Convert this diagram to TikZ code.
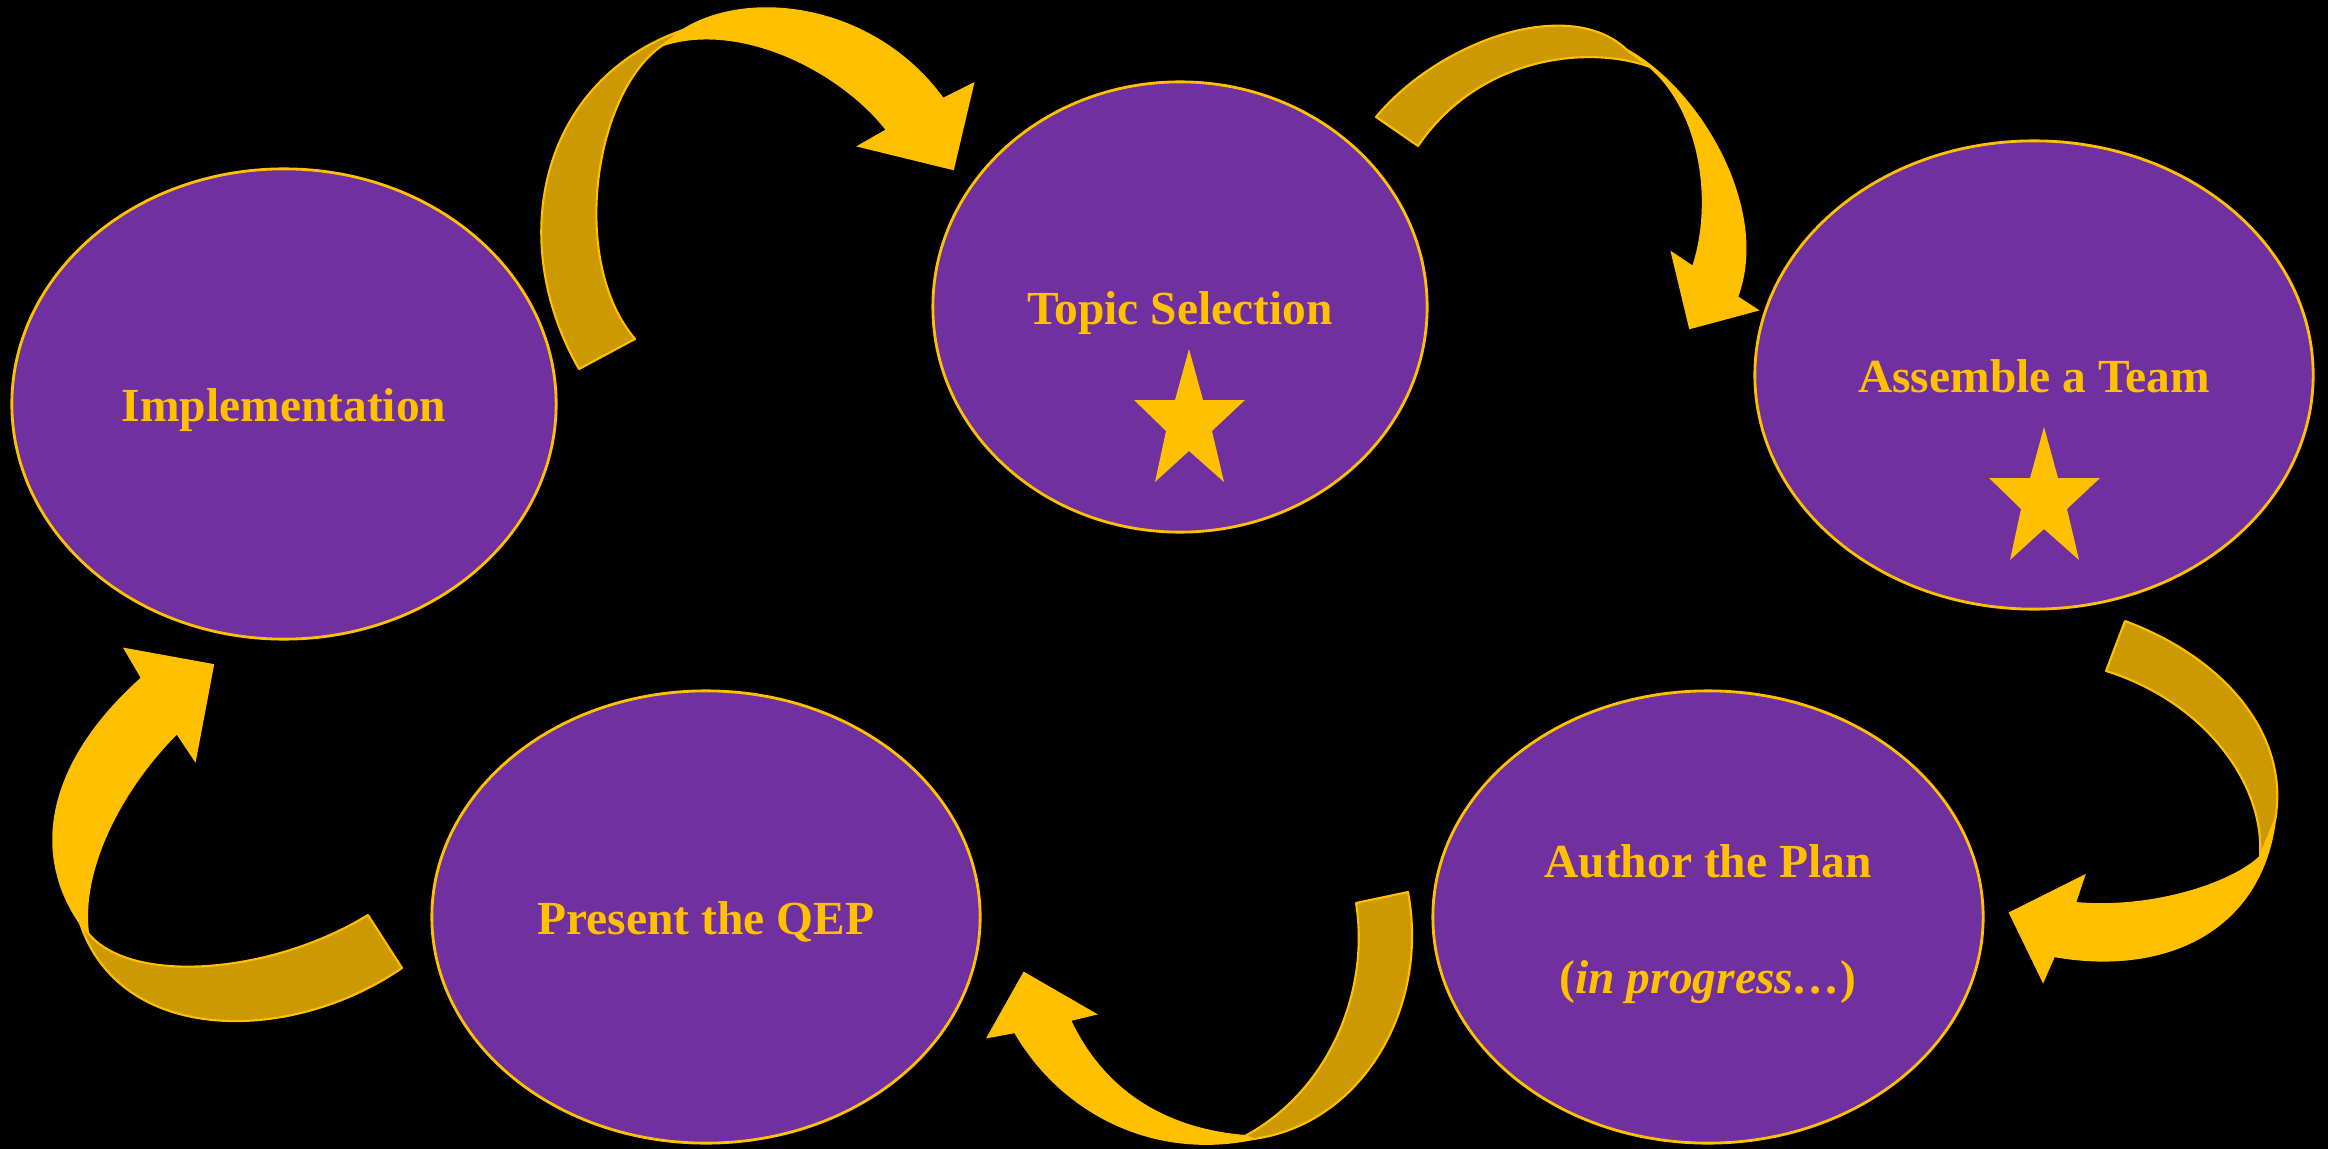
\documentclass[tikz,border=0pt]{standalone}
\usepackage{fontspec}
\setmainfont{Liberation Serif}
\usepackage{tikz}
\usetikzlibrary{shapes.geometric}

\definecolor{qepgold}{HTML}{FFC000}
\definecolor{qepdark}{HTML}{CC9900}
\definecolor{qeppurple}{HTML}{7030A0}

\begin{document}
\begin{tikzpicture}[x=0.01cm, y=-0.01cm]
      \tikzstyle{stage} = [
        ellipse,
        draw=qepgold,
        line width=0.8pt,
        fill=qeppurple,
        text=qepgold,
        inner sep=0pt,
        text height=0.34cm,
        text depth=0cm,
        font=\bfseries\fontsize{13.5}{16}\selectfont
      ]

      \tikzstyle{caption} = [
        text=qepgold,
        align=center,
        inner sep=0pt,
        font=\bfseries\fontsize{13.5}{16}\selectfont
      ]

      \tikzstyle{ribbonback} = [
        fill=qepdark,
        draw=qepgold,
        line width=0.6pt,
        line join=round
      ]

      \tikzstyle{ribbonfront} = [
        fill=qepgold,
        draw=qepgold,
        line width=0.6pt
      ]

      \tikzset{goldstar/.pic={
        \fill[qepgold] (0,-67) -- (14,-16) -- (56,-16) -- (23,15) -- (35,66)
        -- (0,35) -- (-34,66) -- (-23,15) -- (-55,-16) -- (-14,-16) -- cycle;
      }}

      \fill[black] (0,0) rectangle (2328,1149);
      \useasboundingbox (0,0) rectangle (2328,1149);

      \node[stage, minimum width=5.44cm, minimum height=4.70cm]
      (implementation) at (284,404) {Implementation};
      \node[stage, minimum width=4.94cm, minimum height=4.50cm]
      (topic) at (1180,307) {Topic Selection};
      \node[stage, minimum width=5.58cm, minimum height=4.68cm]
      (team) at (2034,375) {Assemble a Team};
      \node[stage, minimum width=5.50cm, minimum height=4.52cm]
      (plan) at (1708,917) {};
      \node[caption] (plan text) at (1708,924)
      {Author the Plan\\[17pt](\textit{in progress…})};
      \node[stage, minimum width=5.48cm, minimum height=4.52cm]
      (qep) at (706,917) {Present the QEP};

      \pic at (1189,416) {goldstar};
      \pic at (2044,494) {goldstar};

      % implementation -> topic
      \filldraw[ribbonback] (579,369) .. controls (505,240) and (540,80)
      .. (683,30) -- (663,45) .. controls (595,90) and (568,260) .. (635,339)
      -- cycle;
      \filldraw[ribbonfront] (683,30) .. controls (750,-12) and (875,5)
      .. (943,99) -- (973,84) -- (953,169) -- (859,146) -- (887,130)
      .. controls (840,70) and (740,20) .. (663,45) -- cycle;

      % topic -> team
      \filldraw[ribbonback] (1376,117) .. controls (1440,40) and (1570,-5)
      .. (1627,50) -- (1650,67) .. controls (1590,45) and (1480,55)
      .. (1418,146) -- cycle;
      \filldraw[ribbonfront] (1627,50) .. controls (1700,90) and (1770,210)
      .. (1737,297) -- (1757,310) -- (1690,328) -- (1672,253) -- (1693,267)
      .. controls (1715,200) and (1700,110) .. (1650,67) -- cycle;

      % team -> plan
      \filldraw[ribbonback] (2125,621) .. controls (2230,660) and (2290,740)
      .. (2275,820) -- (2260,857) .. controls (2265,780) and (2200,700)
      .. (2106,671) -- cycle;
      \filldraw[ribbonfront] (2275,820) .. controls (2260,935) and (2160,975)
      .. (2054,956) -- (2043,981) -- (2010,913) -- (2084,876) -- (2075,903)
      .. controls (2150,910) and (2230,885) .. (2260,857) -- cycle;

      % plan -> qep
      \filldraw[ribbonback] (1408,892) .. controls (1430,1010) and (1360,1125)
      .. (1253,1139) -- (1245,1136) .. controls (1330,1090) and (1370,990)
      .. (1356,903) -- cycle;
      \filldraw[ribbonfront] (1245,1136) .. controls (1170,1130) and (1105,1095)
      .. (1070,1020) -- (1095,1014) -- (1024,973) -- (988,1037) -- (1015,1032)
      .. controls (1060,1110) and (1150,1160) .. (1253,1139) -- cycle;

      % qep -> implementation
      \filldraw[ribbonback] (402,968) .. controls (290,1045) and (120,1045)
      .. (80,923) -- (88,933) .. controls (130,985) and (270,975)
      .. (368,915) -- cycle;
      \filldraw[ribbonfront] (80,923) .. controls (30,850) and (50,760)
      .. (142,678) -- (125,649) -- (213,665) -- (195,760) -- (177,733)
      .. controls (120,790) and (80,870) .. (88,933) -- cycle;
\end{tikzpicture}
\end{document}
